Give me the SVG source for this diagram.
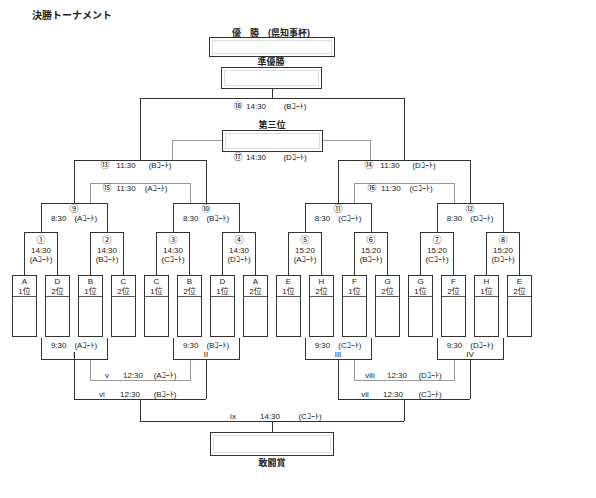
<svg xmlns="http://www.w3.org/2000/svg" width="596" height="498" viewBox="0 0 596 498">
<style>
text{font-family:"Liberation Sans","Noto Sans CJK JP",sans-serif;font-size:8px;fill:#222;text-anchor:middle}
.t{font-size:10px;font-weight:bold;text-anchor:start}
.h{font-size:9px;font-weight:bold}
.n{font-family:"Noto Sans CJK JP",sans-serif;font-size:9px;fill:#111}
.k{stroke:#333;stroke-width:1;fill:none}
.g{stroke:#999;stroke-width:1;fill:none}
.box{fill:#fff;stroke:#333;stroke-width:1}
.in{fill:none;stroke:#ddd;stroke-width:1}
.tm{fill:#fff;stroke:#333;stroke-width:1}
.dv{stroke:#555;stroke-width:1}
</style>
<rect width="596" height="498" fill="#fff"/>
<text class="t" x="32" y="19">決勝トーナメント</text>

<g id="connectors" shape-rendering="crispEdges">
<path class="k" d="M24.5,275V232.5H57.5V275M41,232.5V203"/>
<path class="k" d="M90.5,275V232.5H123.5V275M107,232.5V203"/>
<path class="k" d="M156.5,275V232.5H189.5V275M173,232.5V203"/>
<path class="k" d="M222.5,275V232.5H255.5V275M239,232.5V203"/>
<path class="k" d="M288.5,275V232.5H321.5V275M305,232.5V203"/>
<path class="k" d="M354.5,275V232.5H387.5V275M371,232.5V203"/>
<path class="k" d="M420.5,275V232.5H453.5V275M437,232.5V203"/>
<path class="k" d="M486.5,275V232.5H519.5V275M503,232.5V203"/>
<path class="k" d="M41,203.5H107M74,203.5V160"/>
<path class="k" d="M173,203.5H239M206,203.5V160"/>
<path class="k" d="M305,203.5H371M338,203.5V160"/>
<path class="k" d="M437,203.5H503M470,203.5V160"/>
<path class="k" d="M74,160.5H206M140,160.5V98"/>
<path class="k" d="M338,160.5H470M404,160.5V98"/>
<path class="g" d="M90,203V183.5H190V203"/>
<path class="g" d="M354,203V183.5H454V203"/>
<path class="k" d="M140,98.5H404M272,98.5V89"/>
<path class="g" d="M222,140.5H172.5V160M322,140.5H370.5V160"/>
<path class="k" d="M41,338V359.5H107V338M74,352V399"/>
<path class="k" d="M173,338V359.5H239V338M206,359.5V399"/>
<path class="k" d="M305,338V359.5H371V338M338,359.5V399"/>
<path class="k" d="M437,338V359.5H503V338M470,359.5V399"/>
<path class="g" d="M90,359.5V380.5H190V359.5"/>
<path class="g" d="M354,359.5V380.5H454V359.5"/>
<path class="k" d="M74,399.5H206M140,399.5V421"/>
<path class="k" d="M338,399.5H470M404,399.5V421"/>
<path class="k" d="M140,421.5H404M272,421.5V432"/>
</g>

<g id="winner">
<text class="h" x="271" y="36">優　勝　(県知事杯)</text>
<rect class="box" x="209.5" y="37.5" width="125" height="19"/>
<rect class="in" x="212.5" y="40.5" width="119" height="13"/>
</g>
<g id="runnerup">
<text class="h" x="271" y="65">準優勝</text>
<rect class="box" x="221.5" y="67.5" width="100" height="21"/>
<rect class="in" x="224.5" y="70.5" width="94" height="15"/>
</g>
<g id="third">
<text class="h" x="272" y="128">第三位</text>
<rect class="box" x="222.5" y="130.5" width="100" height="21"/>
<rect class="in" x="225.5" y="133.5" width="94" height="15"/>
</g>
<g id="fighting">
<rect class="box" x="210.5" y="432.5" width="123" height="23"/>
<rect class="in" x="213.5" y="435.5" width="117" height="17"/>
<text class="h" x="272" y="466">敢闘賞</text>
</g>

<g id="labels-upper">
<text class="n" x="238" y="109">⑱</text><text x="256" y="109">14:30</text><text x="295" y="109">(Bｺｰﾄ)</text>
<text class="n" x="238" y="160">⑰</text><text x="256" y="160">14:30</text><text x="295" y="160">(Dｺｰﾄ)</text>
<text class="n" x="105" y="168">⑬</text><text x="126" y="168">11:30</text><text x="160" y="168">(Bｺｰﾄ)</text>
<text class="n" x="107" y="191">⑮</text><text x="126" y="191">11:30</text><text x="156" y="191">(Aｺｰﾄ)</text>
<text class="n" x="369" y="168">⑭</text><text x="390" y="168">11:30</text><text x="424" y="168">(Dｺｰﾄ)</text>
<text class="n" x="372" y="191">⑯</text><text x="391" y="191">11:30</text><text x="421" y="191">(Cｺｰﾄ)</text>
<text class="n" x="74" y="212">⑨</text><text x="74" y="221">8:30　(Aｺｰﾄ)</text>
<text class="n" x="206" y="212">⑩</text><text x="206" y="221">8:30　(Bｺｰﾄ)</text>
<text class="n" x="338" y="212">⑪</text><text x="338" y="221">8:30　(Cｺｰﾄ)</text>
<text class="n" x="470" y="212">⑫</text><text x="470" y="221">8:30　(Dｺｰﾄ)</text>
</g>

<g id="labels-r1">
<text class="n" x="41" y="243">①</text><text x="41" y="253">14:30</text><text x="41" y="262">(Aｺｰﾄ)</text>
<text class="n" x="107" y="243">②</text><text x="107" y="253">14:30</text><text x="107" y="262">(Bｺｰﾄ)</text>
<text class="n" x="173" y="243">③</text><text x="173" y="253">14:30</text><text x="173" y="262">(Cｺｰﾄ)</text>
<text class="n" x="239" y="243">④</text><text x="239" y="253">14:30</text><text x="239" y="262">(Dｺｰﾄ)</text>
<text class="n" x="305" y="243">⑤</text><text x="305" y="253">15:20</text><text x="305" y="262">(Aｺｰﾄ)</text>
<text class="n" x="371" y="243">⑥</text><text x="371" y="253">15:20</text><text x="371" y="262">(Bｺｰﾄ)</text>
<text class="n" x="437" y="243">⑦</text><text x="437" y="253">15:20</text><text x="437" y="262">(Cｺｰﾄ)</text>
<text class="n" x="503" y="243">⑧</text><text x="503" y="253">15:20</text><text x="503" y="262">(Dｺｰﾄ)</text>
</g>

<g id="team-A1"><rect class="tm" x="12.5" y="275.5" width="24" height="61"/><line class="dv" x1="12.5" y1="296.5" x2="36.5" y2="296.5"/><text x="24.5" y="284">A</text><text x="24.5" y="294">1位</text></g>
<g id="team-D2"><rect class="tm" x="45.5" y="275.5" width="24" height="61"/><line class="dv" x1="45.5" y1="296.5" x2="69.5" y2="296.5"/><text x="57.5" y="284">D</text><text x="57.5" y="294">2位</text></g>
<g id="team-B1"><rect class="tm" x="78.5" y="275.5" width="24" height="61"/><line class="dv" x1="78.5" y1="296.5" x2="102.5" y2="296.5"/><text x="90.5" y="284">B</text><text x="90.5" y="294">1位</text></g>
<g id="team-C2"><rect class="tm" x="111.5" y="275.5" width="24" height="61"/><line class="dv" x1="111.5" y1="296.5" x2="135.5" y2="296.5"/><text x="123.5" y="284">C</text><text x="123.5" y="294">2位</text></g>
<g id="team-C1"><rect class="tm" x="144.5" y="275.5" width="24" height="61"/><line class="dv" x1="144.5" y1="296.5" x2="168.5" y2="296.5"/><text x="156.5" y="284">C</text><text x="156.5" y="294">1位</text></g>
<g id="team-B2"><rect class="tm" x="177.5" y="275.5" width="24" height="61"/><line class="dv" x1="177.5" y1="296.5" x2="201.5" y2="296.5"/><text x="189.5" y="284">B</text><text x="189.5" y="294">2位</text></g>
<g id="team-D1"><rect class="tm" x="210.5" y="275.5" width="24" height="61"/><line class="dv" x1="210.5" y1="296.5" x2="234.5" y2="296.5"/><text x="222.5" y="284">D</text><text x="222.5" y="294">1位</text></g>
<g id="team-A2"><rect class="tm" x="243.5" y="275.5" width="24" height="61"/><line class="dv" x1="243.5" y1="296.5" x2="267.5" y2="296.5"/><text x="255.5" y="284">A</text><text x="255.5" y="294">2位</text></g>
<g id="team-E1"><rect class="tm" x="276.5" y="275.5" width="24" height="61"/><line class="dv" x1="276.5" y1="296.5" x2="300.5" y2="296.5"/><text x="288.5" y="284">E</text><text x="288.5" y="294">1位</text></g>
<g id="team-H2"><rect class="tm" x="309.5" y="275.5" width="24" height="61"/><line class="dv" x1="309.5" y1="296.5" x2="333.5" y2="296.5"/><text x="321.5" y="284">H</text><text x="321.5" y="294">2位</text></g>
<g id="team-F1"><rect class="tm" x="342.5" y="275.5" width="24" height="61"/><line class="dv" x1="342.5" y1="296.5" x2="366.5" y2="296.5"/><text x="354.5" y="284">F</text><text x="354.5" y="294">1位</text></g>
<g id="team-G2"><rect class="tm" x="375.5" y="275.5" width="24" height="61"/><line class="dv" x1="375.5" y1="296.5" x2="399.5" y2="296.5"/><text x="387.5" y="284">G</text><text x="387.5" y="294">2位</text></g>
<g id="team-G1"><rect class="tm" x="408.5" y="275.5" width="24" height="61"/><line class="dv" x1="408.5" y1="296.5" x2="432.5" y2="296.5"/><text x="420.5" y="284">G</text><text x="420.5" y="294">1位</text></g>
<g id="team-F2"><rect class="tm" x="441.5" y="275.5" width="24" height="61"/><line class="dv" x1="441.5" y1="296.5" x2="465.5" y2="296.5"/><text x="453.5" y="284">F</text><text x="453.5" y="294">2位</text></g>
<g id="team-H1"><rect class="tm" x="474.5" y="275.5" width="24" height="61"/><line class="dv" x1="474.5" y1="296.5" x2="498.5" y2="296.5"/><text x="486.5" y="284">H</text><text x="486.5" y="294">1位</text></g>
<g id="team-E2"><rect class="tm" x="507.5" y="275.5" width="24" height="61"/><line class="dv" x1="507.5" y1="296.5" x2="531.5" y2="296.5"/><text x="519.5" y="284">E</text><text x="519.5" y="294">2位</text></g>

<g id="labels-lower">
<text x="74" y="348">9:30　(Aｺｰﾄ)</text><text x="74" y="357">I</text>
<text x="206" y="348">9:30　(Bｺｰﾄ)</text><text x="206" y="357">II</text>
<text x="338" y="348">9:30　(Cｺｰﾄ)</text><text x="338" y="357">III</text>
<text x="470" y="348">9:30　(Dｺｰﾄ)</text><text x="470" y="357">IV</text>
<text x="107" y="378">v</text><text x="133" y="378">12:30</text><text x="165" y="378">(Aｺｰﾄ)</text>
<text x="102" y="397">vi</text><text x="130" y="397">12:30</text><text x="165" y="397">(Bｺｰﾄ)</text>
<text x="370" y="378">viii</text><text x="397" y="378">12:30</text><text x="430" y="378">(Dｺｰﾄ)</text>
<text x="365" y="397">vii</text><text x="393" y="397">12:30</text><text x="430" y="397">(Cｺｰﾄ)</text>
<text x="233" y="419">ix</text><text x="270" y="419">14:30</text><text x="310" y="419">(Cｺｰﾄ)</text>
</g>
</svg>
